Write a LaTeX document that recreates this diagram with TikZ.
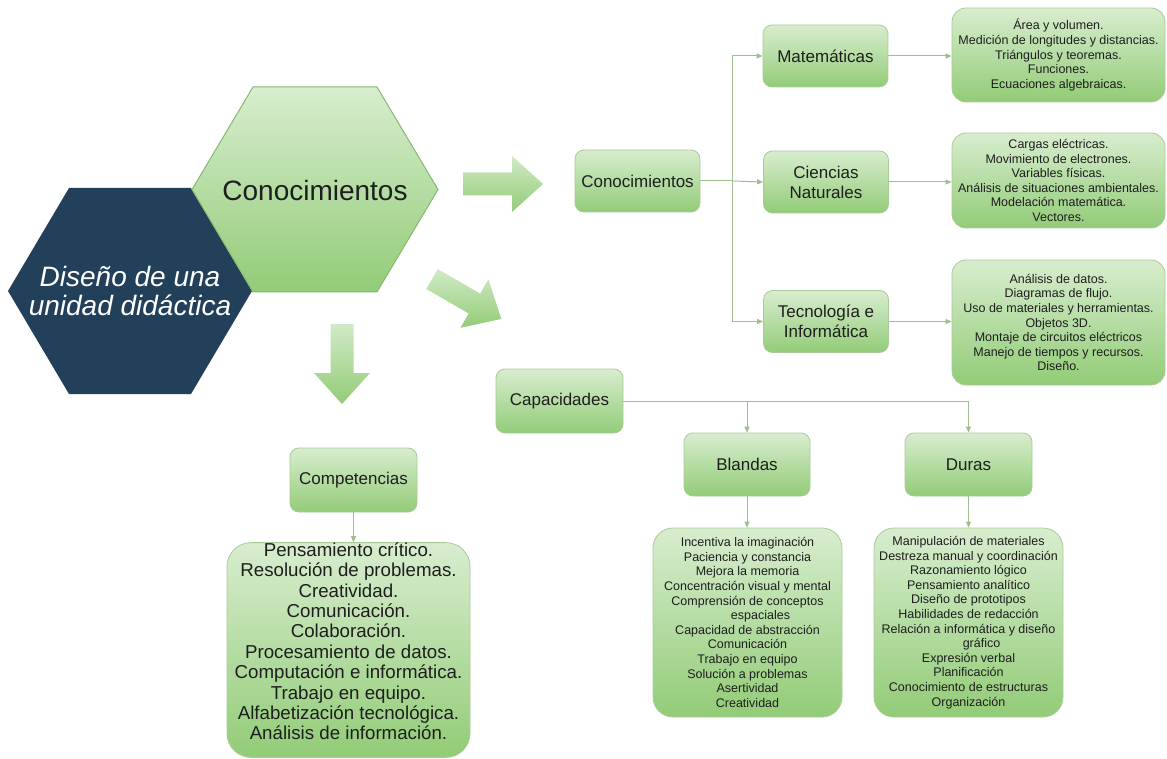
\documentclass[tikz,border=0pt]{standalone}
\usepackage{fontspec}
\setmainfont{Liberation Sans}
\usetikzlibrary{arrows.meta}

\definecolor{navy}{HTML}{23405A}
\definecolor{gtop}{HTML}{D8EDCF}
\definecolor{gbot}{HTML}{92CC77}
\definecolor{gedge}{HTML}{A8CB99}
\definecolor{hexedge}{HTML}{86B96E}
\definecolor{wire}{HTML}{9DBE8F}
\definecolor{ink}{HTML}{1E1E1E}

\tikzset{
  box/.style={rounded corners=9pt, top color=gtop, bottom color=gbot,
    draw=gedge, line width=0.8pt, text=ink, align=center,
    font=\fontsize{17}{20}\selectfont, inner sep=0pt,
    minimum width=125pt, minimum height=62pt},
  listbox/.style={box, rounded corners=14pt,
    font=\fontsize{12.5}{14.6}\selectfont},
  bigbox/.style={box, rounded corners=24pt,
    font=\fontsize{18.7}{20.4}\selectfont},
  wireline/.style={draw=wire, line width=1pt},
  wirearrow/.style={wireline, -{Triangle[length=6pt,width=5pt]}},
  blockarrow/.style={top color=gtop!90!gbot, bottom color=gbot, draw=none},
}

\begin{document}
\begin{tikzpicture}[x=1pt,y=-1pt]
  \useasboundingbox (0,0) rectangle (1167,759);

  % central hexagons
  \fill[navy] (8,291) -- (69,188) -- (191,188) -- (252,291)
    -- (191,394) -- (69,394) -- cycle;
  \shade[top color=gtop, bottom color=gbot, draw=hexedge, line width=1pt]
    (192,189.5) -- (253,87) -- (377,87) -- (438,189.5)
    -- (377,292) -- (253,292) -- cycle;
  \node[text=white, align=center, font=\fontsize{28}{29.5}\selectfont\itshape]
    (unit) at (130,291) {Diseño de una\\unidad didáctica};
  \node[text=ink, font=\fontsize{28}{30}\selectfont]
    (hexknow) at (315,190) {Conocimientos};

  % block arrows
  \foreach \sx/\sy/\ang in {463/184/0, 432/279/-30, 342/324/-90}{
    \begin{scope}[shift={(\sx,\sy)}, rotate=\ang]
      \shade[blockarrow] (0,-11.5) -- (49,-11.5) -- (49,-28) -- (80,0)
        -- (49,28) -- (49,11.5) -- (0,11.5) -- cycle;
    \end{scope}
  }

  % knowledge branch
  \node[box] (know) at (637.5,181) {Conocimientos};
  \node[box] (math) at (825.5,56) {Matemáticas};
  \node[box] (nat)  at (826,182) {Ciencias\\Naturales};
  \node[box] (tech) at (826,321.5) {Tecnología e\\Informática};

  \node[listbox, minimum width=213pt, minimum height=94pt] (mathlist) at (1058.5,55)
    {Área y volumen.\\Medición de longitudes y distancias.\\Triángulos y teoremas.\\Funciones.\\Ecuaciones algebraicas.};
  \node[listbox, minimum width=213pt, minimum height=95pt] (natlist) at (1058.5,180.5)
    {Cargas eléctricas.\\Movimiento de electrones.\\Variables físicas.\\Análisis de situaciones ambientales.\\Modelación matemática.\\Vectores.};
  \node[listbox, minimum width=213pt, minimum height=125pt] (techlist) at (1058.5,322.5)
    {Análisis de datos.\\Diagramas de flujo.\\Uso de materiales y herramientas.\\Objetos 3D.\\Montaje de circuitos eléctricos\\Manejo de tiempos y recursos.\\Diseño.};

  \coordinate (split) at (732,181);
  \draw[wireline] (know.east) -- (split);
  \draw[wirearrow] (split) |- (math.west);
  \draw[wirearrow] (split) -- (nat.west);
  \draw[wirearrow] (split) |- (tech.west);
  \draw[wirearrow] (math.east) -- (math.east -| mathlist.west);
  \draw[wirearrow] (nat.east) -- (nat.east -| natlist.west);
  \draw[wirearrow] (tech.east) -- (tech.east -| techlist.west);

  % abilities branch
  \node[box, minimum width=127pt, minimum height=64pt] (abil) at (559.5,401) {Capacidades};
  \node[box, minimum width=126pt, minimum height=63pt] (soft) at (747,464.5) {Blandas};
  \node[box, minimum width=127pt, minimum height=63pt] (hard) at (968.5,464.5) {Duras};
  \draw[wireline] (abil.east) -- (abil.east -| hard.north);
  \draw[wirearrow] (abil.east -| soft.north) -- (soft.north);
  \draw[wirearrow] (abil.east -| hard.north) -- (hard.north);

  \node[listbox, rounded corners=20pt, minimum width=189pt, minimum height=189pt] (softlist) at (747.5,622.5)
    {Incentiva la imaginación\\Paciencia y constancia\\Mejora la memoria\\Concentración visual y mental\\Comprensión de conceptos\\\hspace*{26pt}espaciales\\Capacidad de abstracción\\Comunicación\\Trabajo en equipo\\Solución a problemas\\Asertividad\\Creatividad};
  \node[listbox, rounded corners=20pt, minimum width=189pt, minimum height=189pt] (hardlist) at (968.5,622.5)
    {Manipulación de materiales\\Destreza manual y coordinación\\Razonamiento lógico\\Pensamiento analítico\\Diseño de prototipos\\Habilidades de redacción\\Relación a informática y diseño\\\hspace*{26pt}gráfico\\Expresión verbal\\Planificación\\Conocimiento de estructuras\\Organización};
  \draw[wirearrow] (soft.south) -- (soft.south |- softlist.north);
  \draw[wirearrow] (hard.south) -- (hard.south |- hardlist.north);

  % competences branch
  \node[box, minimum width=127pt, minimum height=64pt] (comp) at (353.5,480) {Competencias};
  \node[bigbox, minimum width=243pt, minimum height=214pt] (complist) at (348.5,650)
    {Pensamiento crítico.\\Resolución de problemas.\\Creatividad.\\Comunicación.\\Colaboración.\\Procesamiento de datos.\\Computación e informática.\\Trabajo en equipo.\\Alfabetización tecnológica.\\Análisis de información.\\[-3pt]\mbox{}};
  \draw[wirearrow] (comp.south) -- (comp.south |- complist.north);
\end{tikzpicture}
\end{document}
